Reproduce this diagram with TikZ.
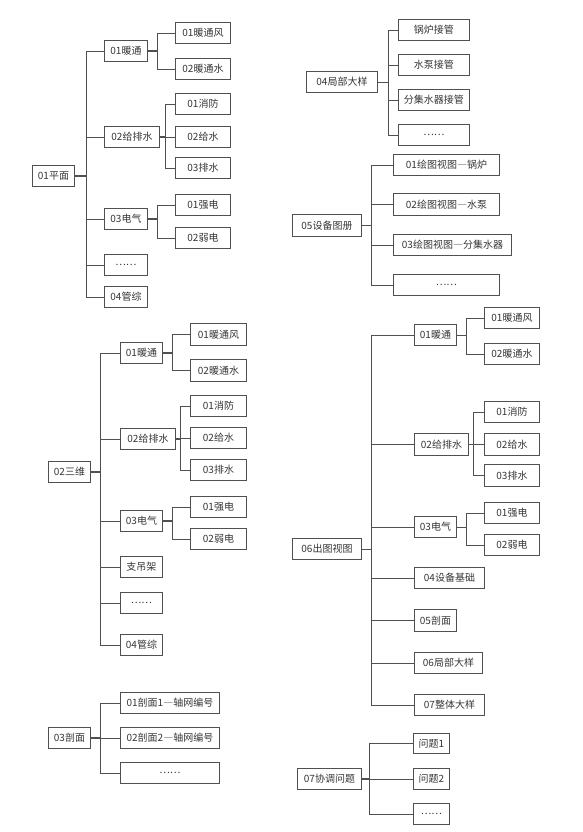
\documentclass[tikz,border=0pt]{standalone}
\usepackage{fontspec}
\setmainfont{Noto Sans CJK SC}
\definecolor{txt}{HTML}{353535}
\definecolor{ln}{HTML}{505050}
\tikzset{
  box/.style={draw=ln, line width=0.9pt, inner sep=0pt, anchor=north west,
    font=\fontsize{10}{12}\selectfont, text=txt},
  conn/.style={draw=ln, line width=0.8pt},
  stem/.style={draw=ln, line width=1.3pt}
}
\newcommand\dsh{{\addfontfeatures{RawFeature=+fwid}—}}
\newcommand\mybox[6]{\node[box, minimum width=#4pt, minimum height=#5pt] (#1) at (#2,#3) {#6};}
\newcommand\conn[3]{\draw[conn] (#1.east) -- (#1.east -| #2) |- (#3.west);}
\newcommand\stem[2]{\draw[stem] (#1.east) -- (#1.east -| #2);}
\begin{document}
\begin{tikzpicture}[x=1pt,y=-1pt]
\useasboundingbox (0,0) rectangle (583,832);
% ---------- 01 平面 ----------
\mybox{p}{32}{165}{42}{21}{01平面}
\mybox{p1}{104}{40}{43}{21}{01暖通}
\mybox{p11}{175}{22}{55}{21}{01暖通风}
\mybox{p12}{175}{58}{55}{21}{02暖通水}
\mybox{p2}{104}{126}{55}{21}{02给排水}
\mybox{p21}{175}{93}{55}{21}{01消防}
\mybox{p22}{175}{126}{55}{21}{02给水}
\mybox{p23}{175}{157}{55}{21}{03排水}
\mybox{p3}{104}{208}{43}{21}{03电气}
\mybox{p31}{175}{194}{55}{21}{01强电}
\mybox{p32}{175}{227}{55}{21}{02弱电}
\mybox{p4}{104}{254}{43}{21}{……}
\mybox{p5}{104}{286}{43}{21}{04管综}
\coordinate (bp) at (86,0);
\coordinate (bp1) at (157,0);
\coordinate (bp2) at (165,0);
\foreach \c in {p1,p2,p3,p4,p5} {\conn{p}{bp}{\c}}
\foreach \c in {p11,p12} {\conn{p1}{bp1}{\c}}
\foreach \c in {p21,p22,p23} {\conn{p2}{bp2}{\c}}
\foreach \c in {p31,p32} {\conn{p3}{bp1}{\c}}
\stem{p}{bp}\stem{p1}{bp1}\stem{p2}{bp2}\stem{p3}{bp1}
% ---------- 02 三维 ----------
\mybox{t}{48}{461}{42}{21}{02三维}
\mybox{t1}{120}{342}{42}{21}{01暖通}
\mybox{t11}{190}{323}{56}{22}{01暖通风}
\mybox{t12}{190}{359}{56}{22}{02暖通水}
\mybox{t2}{120}{428}{55}{21}{02给排水}
\mybox{t21}{190}{395}{56}{21}{01消防}
\mybox{t22}{190}{427}{56}{21}{02给水}
\mybox{t23}{190}{459}{56}{21}{03排水}
\mybox{t3}{120}{510}{42}{21}{03电气}
\mybox{t31}{190}{496}{56}{21}{01强电}
\mybox{t32}{190}{528}{56}{21}{02弱电}
\mybox{t4}{120}{556}{42}{21}{支吊架}
\mybox{t5}{120}{592}{42}{21}{……}
\mybox{t6}{120}{634}{42}{21}{04管综}
\coordinate (bt) at (100,0);
\coordinate (bt1) at (172,0);
\coordinate (bt2) at (180,0);
\foreach \c in {t1,t2,t3,t4,t5,t6} {\conn{t}{bt}{\c}}
\foreach \c in {t11,t12} {\conn{t1}{bt1}{\c}}
\foreach \c in {t21,t22,t23} {\conn{t2}{bt2}{\c}}
\foreach \c in {t31,t32} {\conn{t3}{bt1}{\c}}
\stem{t}{bt}\stem{t1}{bt1}\stem{t2}{bt2}\stem{t3}{bt1}
% ---------- 03 剖面 ----------
\mybox{s}{48}{727}{42}{21}{03剖面}
\mybox{s1}{120}{692}{99}{21}{01剖面1\dsh 轴网编号}
\mybox{s2}{120}{727}{99}{21}{02剖面2\dsh 轴网编号}
\mybox{s3}{120}{762}{99}{21}{……}
\foreach \c in {s1,s2,s3} {\conn{s}{bt}{\c}}
\stem{s}{bt}
% ---------- 04 局部大样 ----------
\mybox{d}{306}{71}{71}{21}{04局部大样}
\mybox{d1}{398}{19}{71}{21}{锅炉接管}
\mybox{d2}{398}{54}{71}{21}{水泵接管}
\mybox{d3}{398}{89}{71}{21}{分集水器接管}
\mybox{d4}{398}{124}{71}{21}{……}
\coordinate (bd) at (388,0);
\foreach \c in {d1,d2,d3,d4} {\conn{d}{bd}{\c}}
% ---------- 05 设备图册 ----------
\mybox{e}{292}{214}{69}{22}{05设备图册}
\mybox{e1}{393}{154}{106}{21}{01绘图视图\dsh 锅炉}
\mybox{e2}{393}{193}{106}{22}{02绘图视图\dsh 水泵}
\mybox{e3}{393}{234}{118}{21}{03绘图视图\dsh 分集水器}
\mybox{e4}{393}{274}{106}{21}{……}
\coordinate (be) at (371,0);
\foreach \c in {e1,e2,e3,e4} {\conn{e}{be}{\c}}
\stem{e}{be}
% ---------- 06 出图视图 ----------
\mybox{v}{292}{538}{69}{21}{06出图视图}
\mybox{v1}{414}{324}{42}{21}{01暖通}
\mybox{v11}{484}{307}{55}{21}{01暖通风}
\mybox{v12}{484}{343}{55}{21}{02暖通水}
\mybox{v2}{414}{433}{54}{22}{02给排水}
\mybox{v21}{484}{401}{55}{21}{01消防}
\mybox{v22}{484}{433}{55}{22}{02给水}
\mybox{v23}{484}{464}{55}{22}{03排水}
\mybox{v3}{414}{516}{42}{21}{03电气}
\mybox{v31}{484}{502}{55}{21}{01强电}
\mybox{v32}{484}{534}{55}{21}{02弱电}
\mybox{v4}{414}{567}{70}{21}{04设备基础}
\mybox{v5}{414}{609}{42}{22}{05剖面}
\mybox{v6}{414}{652}{68}{21}{06局部大样}
\mybox{v7}{414}{694}{70}{21}{07整体大样}
\coordinate (bv1) at (466,0);
\coordinate (bv2) at (473,0);
\foreach \c in {v1,v2,v3,v4,v5,v6,v7} {\conn{v}{be}{\c}}
\foreach \c in {v11,v12} {\conn{v1}{bv1}{\c}}
\foreach \c in {v21,v22,v23} {\conn{v2}{bv2}{\c}}
\foreach \c in {v31,v32} {\conn{v3}{bv1}{\c}}
\stem{v2}{bv2}
% ---------- 07 协调问题 ----------
\mybox{q}{297}{768}{64}{21}{07协调问题}
\mybox{q1}{413}{733}{36}{20}{问题1}
\mybox{q2}{413}{768}{36}{21}{问题2}
\mybox{q3}{413}{803}{36}{21}{……}
\coordinate (bq) at (369,0);
\foreach \c in {q1,q2,q3} {\conn{q}{bq}{\c}}
\stem{q}{bq}
\end{tikzpicture}
\end{document}
